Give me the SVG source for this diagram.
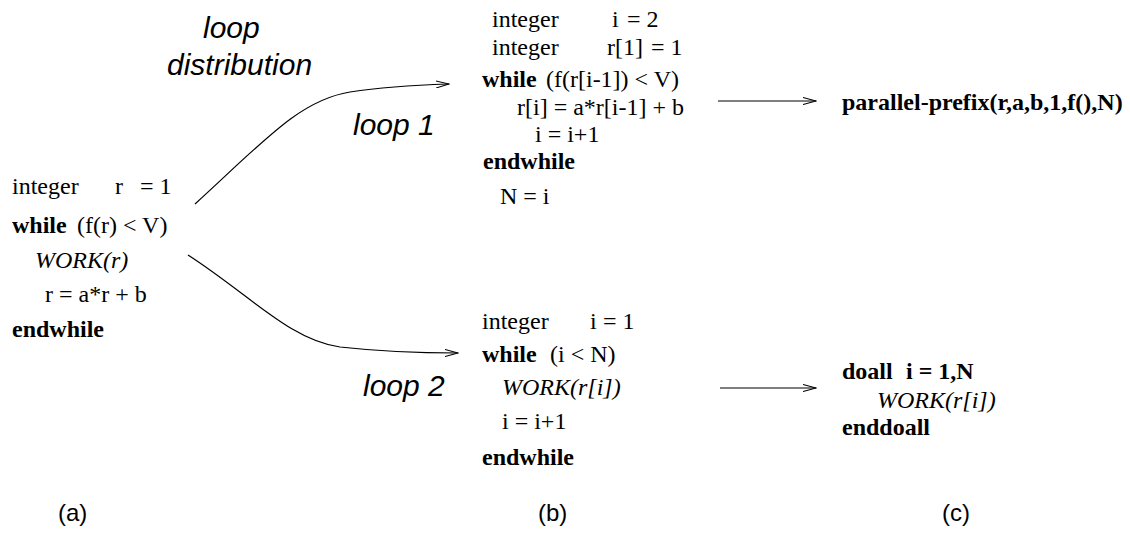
<svg xmlns="http://www.w3.org/2000/svg" width="1130" height="533" viewBox="0 0 1130 533">
<style>
.c{font-family:"Liberation Serif","Times New Roman",serif;font-size:24px;fill:#000}
.b{font-weight:bold}
.i{font-style:italic}
.l{font-family:"Liberation Sans",Arial,sans-serif;font-style:italic;font-size:30px;fill:#000}
.p{font-family:"Liberation Sans",Arial,sans-serif;font-size:24px;fill:#000}
.e{fill:none;stroke:#000;stroke-width:1.2}
</style>
<defs>
<marker id="ah" markerWidth="14" markerHeight="8" refX="13" refY="4" orient="auto" markerUnits="userSpaceOnUse">
<path d="M0,0.5 L13,4 L0,7.5" fill="none" stroke="#000" stroke-width="1.1"/>
</marker>
</defs>
<rect width="1130" height="533" fill="#fff"/>
<g id="loopA">
<text class="c" x="12" y="194">integer</text><text class="c" x="115" y="194">r</text><text class="c" x="140" y="194">= 1</text>
<text class="c b" x="12" y="233">while</text><text class="c" x="77" y="233">(f(r) &lt; V)</text>
<text class="c i" x="35" y="268">WORK(r)</text>
<text class="c" x="45" y="302">r = a*r + b</text>
<text class="c b" x="12" y="337">endwhile</text>
</g>
<g id="loop1">
<text class="c" x="492" y="27">integer</text><text class="c" x="612" y="27">i</text><text class="c" x="627" y="27">= 2</text>
<text class="c" x="492" y="55">integer</text><text class="c" x="607" y="55">r[1]</text><text class="c" x="651" y="55">= 1</text>
<text class="c b" x="482" y="87">while</text><text class="c" x="546" y="87">(f(r[i-1]) &lt; V)</text>
<text class="c" x="517" y="115">r[i] = a*r[i-1] + b</text>
<text class="c" x="535" y="142">i = i+1</text>
<text class="c b" x="483" y="169">endwhile</text>
<text class="c" x="500" y="204">N = i</text>
</g>
<g id="loop2">
<text class="c" x="482" y="329">integer</text><text class="c" x="590" y="329">i</text><text class="c" x="603" y="329">= 1</text>
<text class="c b" x="482" y="362">while</text><text class="c" x="550" y="362">(i &lt; N)</text>
<text class="c i" x="502" y="395">WORK(r[i])</text>
<text class="c" x="502" y="429">i = i+1</text>
<text class="c b" x="482" y="465">endwhile</text>
</g>
<g id="prefix">
<text class="c b" x="842" y="110">parallel-prefix(r,a,b,1,f(),N)</text>
</g>
<g id="doall">
<text class="c b" x="842" y="379">doall</text><text class="c b" x="906" y="379">i = 1,N</text>
<text class="c i" x="877" y="408">WORK(r[i])</text>
<text class="c b" x="842" y="435">enddoall</text>
</g>
<g id="labels">
<text class="l" x="203" y="38">loop</text>
<text class="l" x="167" y="75">distribution</text>
<text class="l" x="353" y="135">loop 1</text>
<text class="l" x="363" y="396">loop 2</text>
<text class="p" x="58" y="521">(a)</text>
<text class="p" x="538" y="521">(b)</text>
<text class="p" x="942" y="521">(c)</text>
</g>
<g id="connectors">
<path class="e" d="M195,204 C265,140 300,100 350,92 C390,86 420,85 449,84" marker-end="url(#ah)"/>
<path class="e" d="M188,255 C250,295 290,340 340,347 C385,352 425,353 458,353" marker-end="url(#ah)"/>
<path class="e" d="M718,101 L816,101" marker-end="url(#ah)"/>
<path class="e" d="M720,388 L816,388" marker-end="url(#ah)"/>
</g>
</svg>
